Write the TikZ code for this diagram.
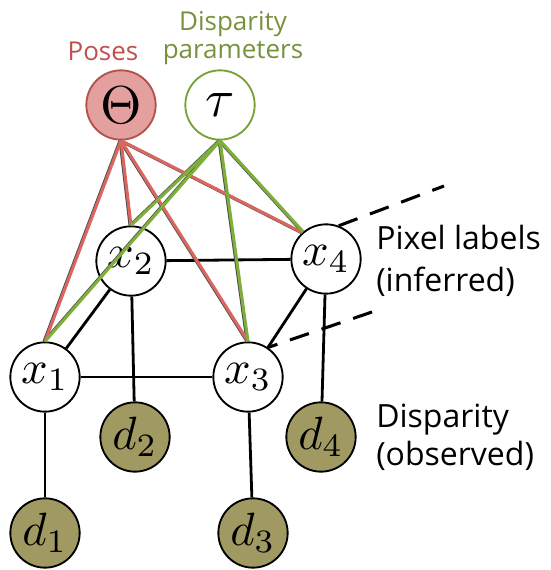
\documentclass[tikz,border=0pt]{standalone}
\usepackage{fontspec}
\setmainfont{Open Sans}
\newcommand\nodemath[1]{\scalebox{3.5}{$#1$}}
\newcommand\nodemathbig[1]{\scalebox{4}{$#1$}}
\definecolor{thetafill}{HTML}{E3A09E}
\definecolor{thetadraw}{HTML}{B5524E}
\definecolor{taudraw}{HTML}{7AA23A}
\definecolor{redline}{HTML}{D9665F}
\definecolor{greenline}{HTML}{7DAF3A}
\definecolor{olivefill}{HTML}{A09A62}
\definecolor{posescol}{HTML}{C0504D}
\definecolor{paramcol}{HTML}{76923C}
\begin{document}
\begin{tikzpicture}[x=0.75pt,y=-0.75pt,
  var/.style={circle,draw=black,line width=1.4pt,minimum size=52pt,inner sep=0pt,fill=white},
  obs/.style={var,fill=olivefill},
  edge/.style={line width=2.1pt,draw=black},
  redl/.style={line width=2.3pt,draw=redline},
  greenl/.style={line width=2.3pt,draw=greenline},
  shadowl/.style={line width=2.3pt,draw=black!70},
  dashline/.style={line width=2.3pt,draw=black,dash pattern=on 15pt off 10pt},
  toplabel/.style={font=\fontsize{19.5}{20.5}\selectfont,align=center},
  sidelabel/.style={align=left,anchor=west,inner sep=0pt}]
\useasboundingbox (0,0) rectangle (550,570);
% nodes
\node[var,fill=thetafill,draw=thetadraw] (T) at (121,105) {\nodemathbig{\Theta}};
\node[var,draw=taudraw] (tau) at (220,105) {\nodemathbig{\tau}};
\node[var] (x1) at (45,377) {\nodemath{x_1}};
\node[var] (x2) at (131,261) {\nodemath{x_2}};
\node[var] (x3) at (248,377) {\nodemath{x_3}};
\node[var] (x4) at (326,259) {\nodemath{x_4}};
\node[obs] (d1) at (45,533) {\nodemath{d_1}};
\node[obs] (d2) at (135,437) {\nodemath{d_2}};
\node[obs] (d3) at (253,533) {\nodemath{d_3}};
\node[obs] (d4) at (321,437) {\nodemath{d_4}};
% labels
\node[toplabel,text=posescol] (poses) at (103,51) {Poses};
\node[toplabel,text=paramcol] (params) at (233,38) {Disparity\\parameters};
\node[sidelabel,font=\fontsize{24}{31}\selectfont] (pix) at (376,261) {Pixel labels\\(inferred)};
\node[sidelabel,font=\fontsize{24}{28.5}\selectfont] (disp) at (376,437) {Disparity\\(observed)};
% black edges
\draw[edge] (x1) -- (x2);
\draw[edge] (x2) -- (x4);
\draw[edge] (x1) -- (x3);
\draw[edge] (x4) -- (x3.56);
\draw[edge] (x1) -- (d1);
\draw[edge] (x3) -- (d3);
\draw[edge] (x2) -- (d2);
\draw[edge] (x4) -- (d4);
% dashed extensions
\coordinate (u) at (444,186);
\coordinate (l) at (372,312);
\draw[dashline] (x4.69) -- (u);
\draw[dashline] (l) -- (x3.56);
% shadows of coloured edges
\begin{scope}[transform canvas={xshift=-0.7pt}]
\foreach \a/\b in {T.south/x1.north,T.south/x2.north,T.south/x3.north,T.south/x4.132,
                   tau.south/x1.north,tau.south/x2.north,tau.south/x3.north,tau.south/x4.130}
  \draw[shadowl] (\a) -- (\b);
\end{scope}
% coloured edges
\draw[redl] (T.south) -- (x1.north);
\draw[redl] (T.south) -- (x2.north);
\draw[redl] (T.south) -- (x3.north);
\draw[redl] (T.south) -- (x4.132);
\draw[greenl] (tau.south) -- (x1.north);
\draw[greenl] (tau.south) -- (x2.north);
\draw[greenl] (tau.south) -- (x3.north);
\draw[greenl] (tau.south) -- (x4.130);
\end{tikzpicture}
\end{document}
